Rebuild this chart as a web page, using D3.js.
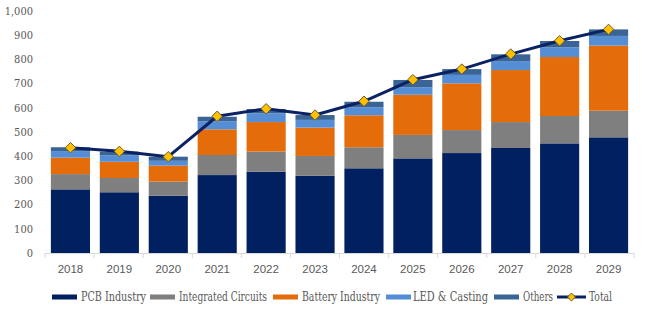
<!DOCTYPE html>
<html><head><meta charset="utf-8">
<script src="https://cdn.jsdelivr.net/npm/d3@7/dist/d3.min.js"></script>
<style>
body{margin:0;background:#fff}svg{display:block}
</style>
</head><body>
<svg id="c" width="658" height="322"></svg>
<script>
const years = ["2018","2019","2020","2021","2022","2023","2024","2025","2026","2027","2028","2029"];
const pcb = [263,251,237,322,336,319,350,391,413,434,453,478];
const ic = [63,59,58,83,83,82,87,97,95,107,113,110];
const battery = [68,67,66,106,122,117,132,166,193,215,244,269];
const led = [27,27,20,33,36,32,33,31,35,37,40,40];
const others = [16,15,17,19,18,20,23,30,24,28,26,27];
const total = [435,420,398,565,596,570,627,716,760,822,877,924];
const yTicks = [0,100,200,300,400,500,600,700,800,900,1000];
const seriesNames = ["PCB Industry","Integrated Circuits","Battery Industry","LED & Casting","Others"];
const colors = ["#002060","#7f7f7f","#e46c0a","#558ed5","#3a6496"];

const SERIF = "'DejaVu Serif Condensed', 'DejaVu Serif', serif";
const SANS = "'Liberation Sans', Arial, sans-serif";

const svg = d3.select("#c");
const x = d3.scaleBand().domain(years).range([45,634]).paddingInner(0.2).paddingOuter(0.12);
const y = d3.scaleLinear().domain([0,1000]).range([253,11]);

const rows = years.map((yr,i)=>({year:yr, s0:pcb[i], s1:ic[i], s2:battery[i], s3:led[i], s4:others[i]}));
const stack = d3.stack().keys(["s0","s1","s2","s3","s4"])(rows);

svg.append("g").selectAll("text").data(yTicks).join("text")
  .attr("font-family",SERIF)
  .attr("x",33).attr("y",d=>y(d)).attr("dy","0.35em").attr("text-anchor","end")
  .attr("font-size",11).attr("fill","#595959")
  .text(d=>d3.format(",")(d));

svg.append("g").selectAll("g").data(stack).join("g").attr("fill",(d,i)=>colors[i])
  .selectAll("rect").data(d=>d).join("rect")
  .attr("x",d=>x(d.data.year)).attr("width",x.bandwidth())
  .attr("y",d=>y(d[1])).attr("height",d=>y(d[0])-y(d[1]));

const ax = svg.append("g");
ax.append("line").attr("x1",45).attr("x2",634).attr("y1",253.5).attr("y2",253.5).attr("stroke","#d9d9d9");
const bounds = years.map((d,i)=>45+i*(589/12)).concat([634]);
ax.selectAll("line.t").data(bounds).join("line").attr("class","t")
  .attr("x1",d=>d).attr("x2",d=>d).attr("y1",253).attr("y2",258).attr("stroke","#d9d9d9");
ax.append("g").selectAll("text").data(years).join("text")
  .attr("font-family",SANS)
  .attr("x",d=>x(d)+x.bandwidth()/2).attr("y",269).attr("dy","0.35em").attr("text-anchor","middle")
  .attr("font-size",11.5).attr("fill","#595959")
  .text(d=>d);

const line = d3.line().x((d,i)=>x(years[i])+x.bandwidth()/2).y(d=>y(d));
svg.append("path").datum(total).attr("d",line).attr("fill","none").attr("stroke","#0a2263").attr("stroke-width",3).attr("stroke-linejoin","round");
const diamond = d3.symbol().type(d3.symbolDiamond2).size(70);
svg.append("g").selectAll("path").data(total).join("path")
  .attr("transform",(d,i)=>`translate(${x(years[i])+x.bandwidth()/2},${y(d)})`)
  .attr("d",diamond).attr("fill","#ffc000").attr("stroke","#6b5a2a").attr("stroke-width",1);

const lg = svg.append("g").attr("font-size",12).attr("fill","#595959").attr("font-family",SERIF);
const legPos = [[52,81,65],[150,179,88],[273,302,78],[386,413,75],[494,523,30]];
seriesNames.forEach((n,i)=>{
  lg.append("rect").attr("x",legPos[i][0]).attr("y",294.5).attr("width",25).attr("height",5).attr("fill",colors[i]);
  lg.append("text").attr("x",legPos[i][1]).attr("y",297).attr("dy","0.35em")
    .attr("textLength",legPos[i][2]).attr("lengthAdjust","spacingAndGlyphs").text(n);
});
lg.append("line").attr("x1",557).attr("x2",586).attr("y1",297).attr("y2",297).attr("stroke","#0a2263").attr("stroke-width",3);
lg.append("path").attr("transform","translate(571.5,297)").attr("d",d3.symbol().type(d3.symbolDiamond2).size(40)).attr("fill","#ffc000").attr("stroke","#6b5a2a").attr("stroke-width",1);
lg.append("text").attr("x",589).attr("y",297).attr("dy","0.35em").attr("textLength",23).attr("lengthAdjust","spacingAndGlyphs").text("Total");
</script>
</body></html>
